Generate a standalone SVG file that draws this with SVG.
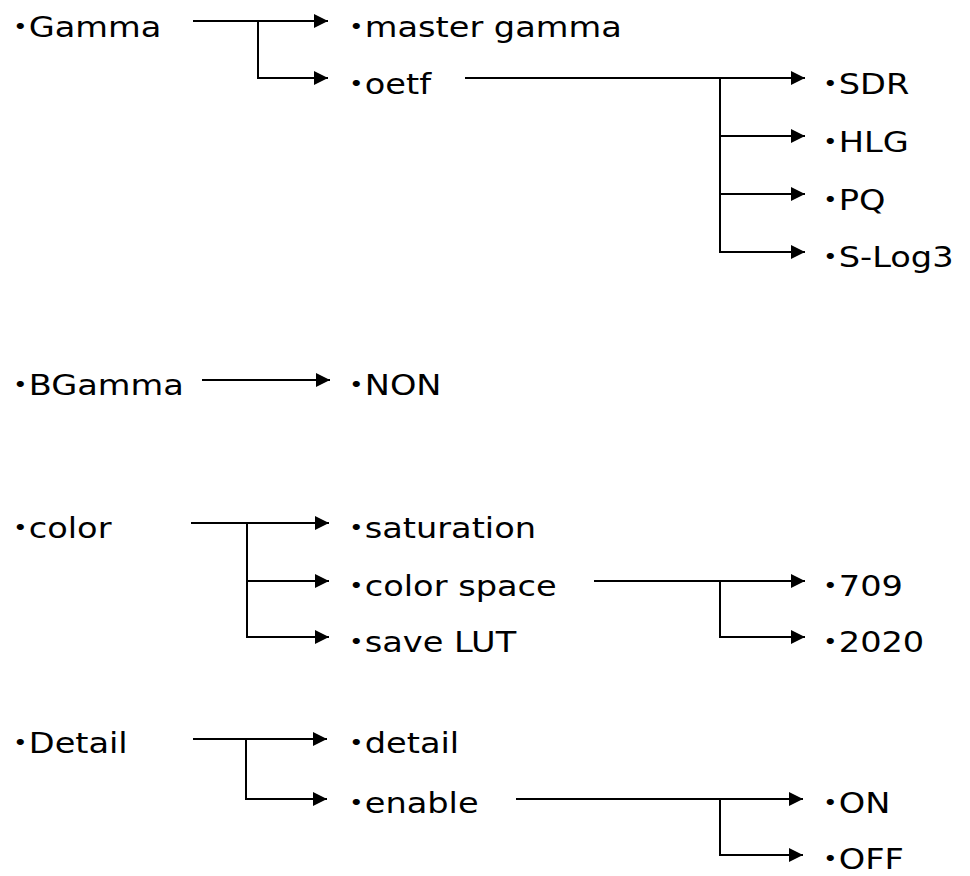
<svg xmlns="http://www.w3.org/2000/svg" width="970" height="876" viewBox="0 0 970 876">
<style>
  text{font-family:"DejaVu Sans","Noto Sans CJK JP",sans-serif;font-size:28px;fill:#000;font-feature-settings:"halt" 1;transform-box:fill-box;transform-origin:0 0;transform:scaleX(1.2)}
  .c path{fill:none;stroke:#000;stroke-width:2;marker-end:url(#ah)}
</style>
<defs>
  <marker id="ah" markerUnits="userSpaceOnUse" markerWidth="15" markerHeight="15" refX="14" refY="7" orient="auto">
    <path d="M0,0 L14,7 L0,14 Z" fill="#000"/>
  </marker>
</defs>
<rect width="970" height="876" fill="#fff"/>
<g id="connectors" class="c">
  <path d="M193,21 H328"/>
  <path d="M258,21 V78 H328"/>
  <path d="M465,78 H805"/>
  <path d="M720,78 V136 H805"/>
  <path d="M720,136 V194 H805"/>
  <path d="M720,194 V252 H805"/>
  <path d="M202,380 H330"/>
  <path d="M191,523 H329"/>
  <path d="M247,523 V581 H329"/>
  <path d="M247,581 V637 H329"/>
  <path d="M594,581 H805"/>
  <path d="M720,581 V637 H805"/>
  <path d="M193,739 H327"/>
  <path d="M246,739 V799 H327"/>
  <path d="M516,799 H803"/>
  <path d="M720,799 V855 H803"/>
</g>
<g id="gamma"><text x="12" y="37">・Gamma</text></g>
<g id="master-gamma"><text x="348" y="37">・master gamma</text></g>
<g id="oetf"><text x="348" y="94">・oetf</text></g>
<g id="sdr"><text x="822" y="94">・SDR</text></g>
<g id="hlg"><text x="822" y="152">・HLG</text></g>
<g id="pq"><text x="822" y="210">・PQ</text></g>
<g id="slog3"><text x="822" y="267">・S-Log3</text></g>
<g id="bgamma"><text x="12" y="395">・BGamma</text></g>
<g id="non"><text x="348" y="395">・NON</text></g>
<g id="color"><text x="12" y="538">・color</text></g>
<g id="saturation"><text x="348" y="538">・saturation</text></g>
<g id="color-space"><text x="348" y="596">・color space</text></g>
<g id="save-lut"><text x="348" y="652">・save LUT</text></g>
<g id="c709"><text x="822" y="596">・709</text></g>
<g id="c2020"><text x="822" y="652">・2020</text></g>
<g id="detail-root"><text x="12" y="753">・Detail</text></g>
<g id="detail"><text x="348" y="753">・detail</text></g>
<g id="enable"><text x="348" y="813">・enable</text></g>
<g id="on"><text x="822" y="813">・ON</text></g>
<g id="off"><text x="822" y="869">・OFF</text></g>
</svg>
